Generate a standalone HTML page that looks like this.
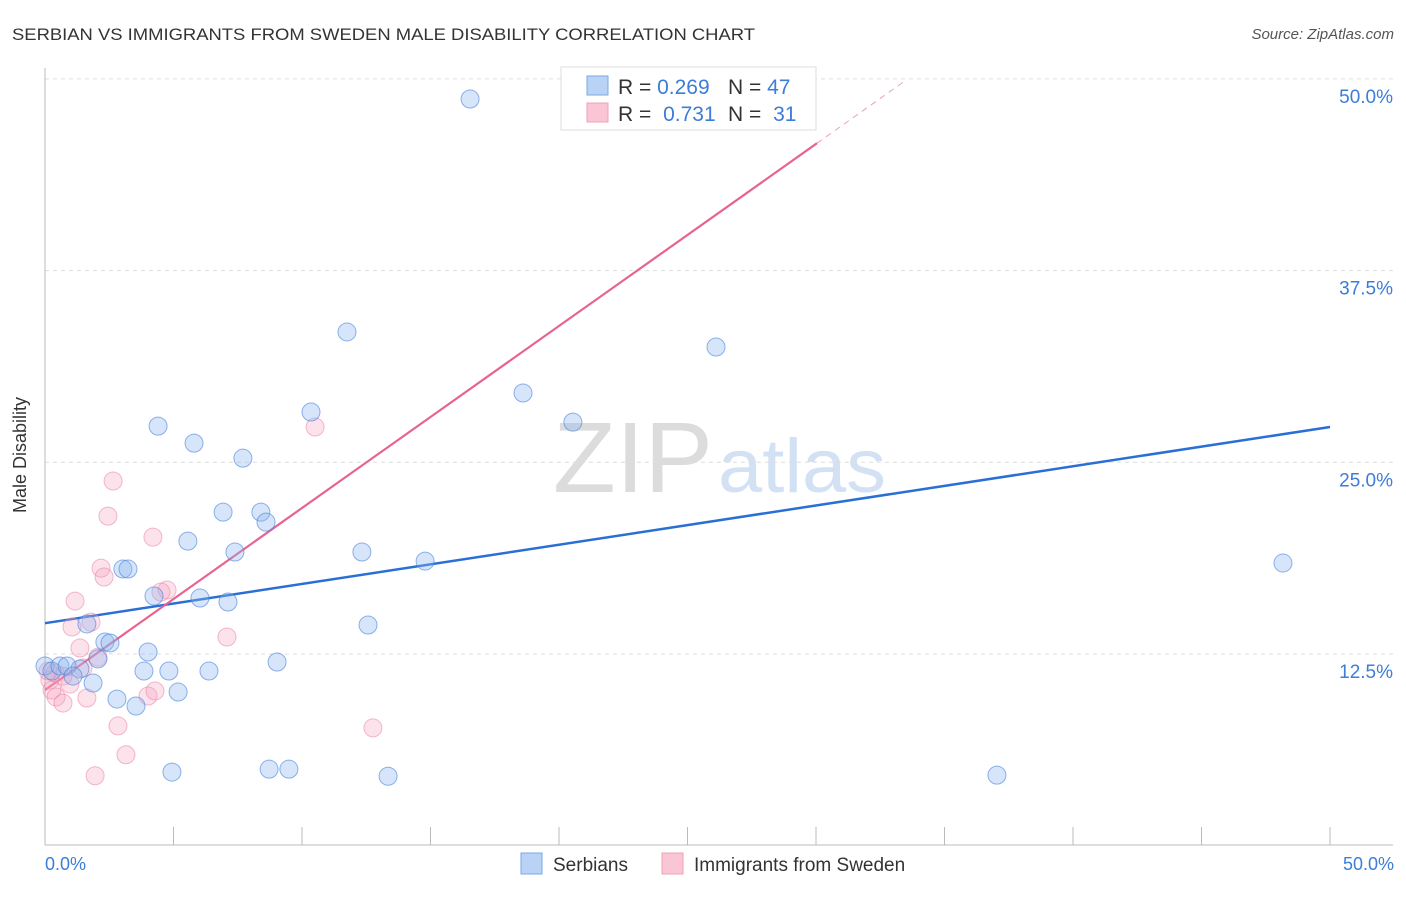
<!DOCTYPE html>
<html><head><meta charset="utf-8"><style>
body{margin:0;background:#fff;font-family:"Liberation Sans",sans-serif;}
svg text{font-family:"Liberation Sans",sans-serif;}
</style></head><body>
<svg id="chart" width="1406" height="892">
<text x="12" y="40" font-size="17" fill="#333" textLength="743" lengthAdjust="spacingAndGlyphs">SERBIAN VS IMMIGRANTS FROM SWEDEN MALE DISABILITY CORRELATION CHART</text>
<text x="1394" y="39" font-size="15" fill="#555" font-style="italic" text-anchor="end">Source: ZipAtlas.com</text>
<g>
<text x="553" y="492" font-size="100" fill="#dcdcdc" font-family="Liberation Serif" textLength="160" lengthAdjust="spacingAndGlyphs">ZIP</text>
<text x="718" y="492" font-size="76" fill="#d2e1f4" textLength="168" lengthAdjust="spacingAndGlyphs">atlas</text>
</g>
<g id="grid"></g>
<g id="axes"></g>
<g id="lines"></g>
<g id="points"></g>
<text x="26" y="455" font-size="18" fill="#333" text-anchor="middle" transform="rotate(-90 26 455)">Male Disability</text>
<text x="45" y="870" font-size="18" fill="#3b7dd8">0.0%</text>
<text x="1394" y="870" font-size="18" fill="#3b7dd8" text-anchor="end">50.0%</text>
<g>
<rect x="561" y="67" width="255" height="63" fill="#fff" stroke="#ddd"/>
<rect x="587" y="76" width="21" height="19" fill="#b9d3f6" stroke="#7aa7e6"/>
<rect x="587" y="103" width="21" height="19" fill="#fac6d6" stroke="#f0a0b8"/>
<text x="618" y="94" font-size="21" fill="#333">R = <tspan fill="#3b7dd8">0.269</tspan></text>
<text x="728" y="94" font-size="21" fill="#333">N = <tspan fill="#3b7dd8">47</tspan></text>
<text x="618" y="121" font-size="21" fill="#333">R = <tspan fill="#3b7dd8" dx="6">0.731</tspan></text>
<text x="728" y="121" font-size="21" fill="#333">N = <tspan fill="#3b7dd8" dx="6">31</tspan></text>
</g>
<g>
<rect x="521" y="853" width="21" height="21" fill="#b9d3f6" stroke="#7aa7e6"/>
<text x="553" y="871" font-size="19" fill="#333">Serbians</text>
<rect x="662" y="853" width="21" height="21" fill="#fac6d6" stroke="#f0a0b8"/>
<text x="694" y="871" font-size="19" fill="#333">Immigrants from Sweden</text>
</g>
</svg>
<script>
const yTicks=[12.5,25,37.5,50];
const yTickLabels=["12.5%","25.0%","37.5%","50.0%"];
const xTicks=[0,5,10,15,20,25,30,35,40,45,50];
const serbX=[16.54,11.75,26.11,18.60,10.35,20.54,4.40,5.80,7.70,6.93,8.40,8.60,5.56,7.39,12.33,14.79,48.17,3.03,3.23,4.24,6.03,7.12,1.63,12.57,2.33,2.53,4.01,2.06,9.03,0,0.27,0.58,0.86,1.36,1.09,3.85,4.82,6.38,1.87,5.18,2.80,3.54,4.94,8.72,9.49,13.35,37.04];
const serbY=[48.69,33.50,32.52,29.52,28.28,27.62,27.36,26.25,25.27,21.75,21.75,21.10,19.86,19.15,19.15,18.56,18.43,18.04,18.04,16.28,16.15,15.89,14.46,14.39,13.28,13.22,12.63,12.18,11.98,11.72,11.39,11.72,11.72,11.52,11.06,11.39,11.39,11.39,10.61,10.02,9.56,9.11,4.80,4.99,4.99,4.53,4.60];
const sweX=[25.95,10.51,2.65,2.45,4.20,2.18,2.30,4.75,4.51,1.17,1.79,1.05,7.08,1.36,2.06,1.48,0.39,0.70,0.19,0.27,0.43,0.70,1.63,4.01,4.28,2.84,12.76,3.15,1.95,0.12,0.97];
const sweY=[48.95,27.30,23.78,21.49,20.12,18.10,17.52,16.67,16.54,15.95,14.58,14.26,13.61,12.89,12.30,11.59,11.26,11.06,10.80,10.15,9.70,9.30,9.63,9.76,10.09,7.81,7.68,5.93,4.56,11.39,10.54];
const serbTrend=[14.51,27.30];
const sweTrend=[10.15,1.187];
const NS="http://www.w3.org/2000/svg";
const X=v=>45+v/50*1285;
const Y=v=>845.7-v/12.5*191.7;
function mk(tag,attrs,parent){const e=document.createElementNS(NS,tag);for(const k in attrs)e.setAttribute(k,attrs[k]);parent.appendChild(e);return e;}
const grid=document.getElementById('grid'),axes=document.getElementById('axes'),lines=document.getElementById('lines'),pts=document.getElementById('points');
yTicks.forEach((t,i)=>{
 const l=mk('line',{x1:45,x2:1393,y1:Y(t),y2:Y(t),stroke:'#ddd','stroke-dasharray':'4,4'},grid);
 
 
 const tx=mk('text',{x:1393,y:Y(t)+24,'font-size':19,fill:'#3b7dd8','text-anchor':'end'},grid);
 tx.textContent=yTickLabels[i];
 
 
});
const ax=mk('line',{x1:45,x2:1393,y1:845,y2:845,stroke:'#bbb'},axes);


const ay=mk('line',{x1:45,x2:45,y1:68,y2:845,stroke:'#bbb'},axes);


xTicks.forEach(t=>{
 const l=mk('line',{x1:X(t),x2:X(t),y1:827,y2:845,stroke:'#bbb'},axes);
 
 
});
function dot(x,y,fill,stroke,name){
 const c=mk('circle',{cx:X(x),cy:Y(y),r:9,fill:fill,stroke:stroke,'stroke-width':1},pts);
 
 
}
sweX.forEach((x,i)=>dot(x,sweY[i],'rgba(245,160,190,0.3)','rgba(235,130,165,0.55)','sweden-point'));
serbX.forEach((x,i)=>dot(x,serbY[i],'rgba(140,182,238,0.36)','rgba(70,130,220,0.6)','serbian-point'));
const bl=mk('line',{x1:X(0),y1:Y(serbTrend[0]),x2:X(50),y2:Y(serbTrend[1]),stroke:'#2a6fd6','stroke-width':2.5},lines);


const pl=mk('line',{x1:X(0),y1:Y(sweTrend[0]),x2:X(30.04),y2:Y(sweTrend[0]+sweTrend[1]*30.04),stroke:'#e8638f','stroke-width':2.2},lines);


const pd=mk('line',{x1:X(30.04),y1:Y(sweTrend[0]+sweTrend[1]*30.04),x2:X(33.46),y2:Y(sweTrend[0]+sweTrend[1]*33.46),stroke:'#e8a0b8','stroke-width':1,'stroke-dasharray':'6,5'},lines);


</script>
</body></html>
